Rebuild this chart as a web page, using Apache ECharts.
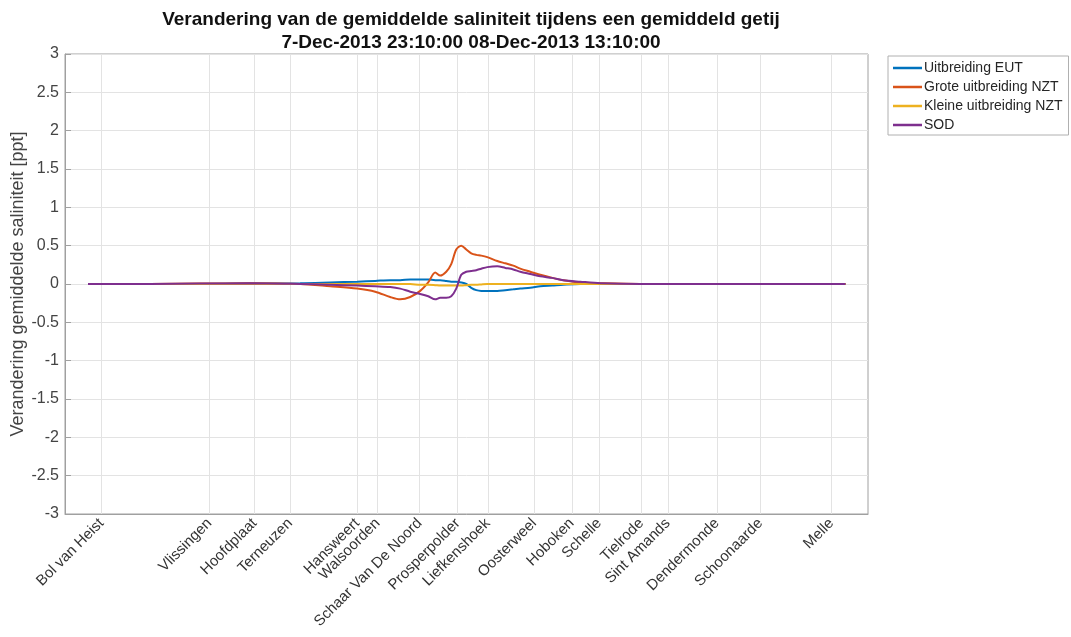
<!DOCTYPE html>
<html><head><meta charset="utf-8">
<script src="https://cdn.jsdelivr.net/npm/echarts@6/dist/echarts.min.js"></script>
<style>html,body{margin:0;padding:0;background:#fff}#c{width:1071px;height:637px}</style>
</head><body><div id="c"></div>
<script>
// Station names and their positions along the estuary (axis units)
const stationNames = ['Bol van Heist','Vlissingen','Hoofdplaat','Terneuzen','Hansweert','Walsoorden','Schaar Van De Noord','Prosperpolder','Liefkenshoek','Oosterweel','Hoboken','Schelle','Tielrode','Sint Amands','Dendermonde','Schoonaarde','Melle'];
const stationPos = [7.3,28.9,37.9,45.0,58.4,62.5,70.9,78.5,84.5,93.8,101.3,106.8,115.2,120.5,130.3,139.0,153.2];
// x positions of sampled values
const xPos = [4.6,17,27,37,47,53,58.4,62,65,67,69,71,72.6,74,75,76.2,77.2,78.2,79.2,80.2,81.2,82.2,83.2,84.4,86.4,88,89.6,91,93,95,97.4,99.6,103,107,115,127,156];
const uitbreidingEUT = [0,0,0,0.005,0.01,0.02,0.03,0.04,0.05,0.05,0.06,0.06,0.06,0.05,0.05,0.04,0.03,0.03,0.02,0.0,-0.05,-0.08,-0.09,-0.09,-0.09,-0.08,-0.07,-0.06,-0.05,-0.03,-0.02,-0.01,0,0,0,0,0];
const groteNZT = [0,0,0.005,0.01,0,-0.03,-0.06,-0.1,-0.17,-0.2,-0.17,-0.09,0.02,0.15,0.11,0.16,0.26,0.45,0.5,0.45,0.4,0.38,0.37,0.35,0.3,0.27,0.24,0.2,0.16,0.12,0.08,0.05,0.02,0.01,0,0,0];
const kleineNZT = [0,0,0,0,0,0,0,0,0,0,0,-0.01,-0.01,-0.015,-0.02,-0.02,-0.02,-0.02,-0.02,-0.015,-0.01,-0.01,-0.005,0,0,0,0,0,0,0,0,0,0,0,0,0,0];
const sod = [0,0,0.005,0.01,0,-0.01,-0.02,-0.03,-0.04,-0.06,-0.1,-0.13,-0.16,-0.2,-0.18,-0.18,-0.16,-0.06,0.12,0.16,0.17,0.18,0.2,0.22,0.23,0.21,0.19,0.16,0.13,0.1,0.08,0.05,0.03,0.01,0,0,0];
const seriesNames = ['Uitbreiding EUT','Grote uitbreiding NZT','Kleine uitbreiding NZT','SOD'];
const seriesColors = ['#0072BD','#D95319','#EDB120','#7E2F8E'];
const yTicks = ['3','2.5','2','1.5','1','0.5','0','-0.5','-1','-1.5','-2','-2.5','-3'];

const allVals = [uitbreidingEUT, groteNZT, kleineNZT, sod];
const font = 'Liberation Sans, Arial, Helvetica, sans-serif';
const chart = echarts.init(document.getElementById('c'));
const series = allVals.map((vals, i) => ({
  name: seriesNames[i], type: 'line', showSymbol: false, smooth: 0.3,
  lineStyle: {width: 2, color: seriesColors[i]}, itemStyle: {color: seriesColors[i]},
  data: xPos.map((x, k) => [x, vals[k]]), z: 5 + i
}));
series.push({
  type: 'line', data: [], silent: true, z: 1,
  markLine: {silent: true, symbol: 'none', label: {show: false},
    lineStyle: {color: '#e3e3e3', width: 1, type: 'solid'},
    data: stationPos.map(p => ({xAxis: p}))}
});
chart.setOption({
  animation: false,
  backgroundColor: '#fff',
  title: {
    text: 'Verandering van de gemiddelde saliniteit tijdens een gemiddeld getij\n7-Dec-2013 23:10:00 08-Dec-2013 13:10:00',
    left: 466, top: 3, textAlign: 'center',
    textStyle: {fontFamily: font, fontSize: 19, fontWeight: 'bold', color: '#111', lineHeight: 23}
  },
  legend: {
    orient: 'vertical', left: 888, top: 56, width: 182,
    data: seriesNames,
    icon: 'rect', itemWidth: 29, itemHeight: 2.5, itemGap: 5,
    padding: [5, 6, 3, 5],
    borderColor: '#b0b0b0', borderWidth: 1, backgroundColor: '#fff',
    textStyle: {fontFamily: font, fontSize: 14, color: '#262626', padding: [0,0,0,-3]}
  },
  grid: {left: 65, right: 203, top: 54, bottom: 123, show: true, borderColor: '#a0a0a0', borderWidth: 1, outerBoundsMode: 'none', containLabel: false},
  xAxis: {
    type: 'value', min: 0, max: 160.5,
    axisLine: {show: true, onZero: false, lineStyle: {color: '#a0a0a0'}},
    axisTick: {show: true, inside: true, length: 6, customValues: stationPos, lineStyle: {color: '#a0a0a0'}},
    axisLabel: {customValues: stationPos, rotate: 45, margin: 7, fontFamily: font, fontSize: 15, color: '#333',
      formatter: v => { const i = stationPos.indexOf(v); return i >= 0 ? stationNames[i] : ''; }},
    splitLine: {show: false}
  },
  yAxis: {
    type: 'value', min: -3, max: 3, interval: 0.5,
    name: 'Verandering gemiddelde saliniteit [ppt]', nameLocation: 'middle', nameGap: 38, nameMoveOverlap: false,
    nameTextStyle: {fontFamily: font, fontSize: 18, color: '#444'},
    axisLine: {show: true, lineStyle: {color: '#a0a0a0'}},
    axisTick: {show: true, inside: true, length: 6, lineStyle: {color: '#a0a0a0'}},
    axisLabel: {fontFamily: font, fontSize: 16, color: '#444', margin: 6,
      formatter: v => yTicks[yTicks.indexOf(String(v))] ?? String(v)},
    splitLine: {show: true, lineStyle: {color: '#e3e3e3'}}
  },
  series: series
});
</script></body></html>
